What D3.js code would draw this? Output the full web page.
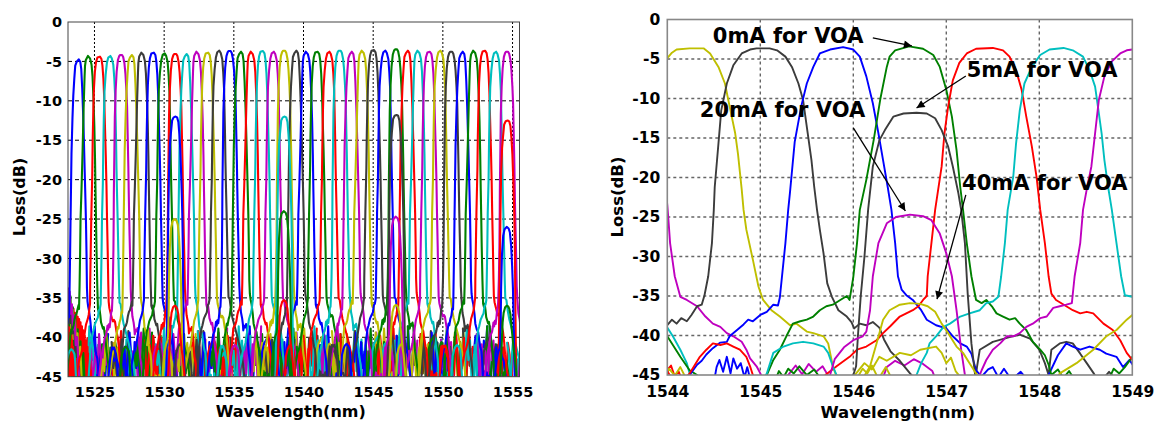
<!DOCTYPE html>
<html>
<head>
<meta charset="utf-8">
<script src="https://cdn.jsdelivr.net/npm/d3@7"></script>
<style>
  body { margin: 0; background: #fff; }
  svg { display: block; }
  text { font-family: "DejaVu Sans", "Liberation Sans", sans-serif; font-weight: bold; fill: #000; }
</style>
</head>
<body>
<div id="chart"></div>
<script>
// ---------------- data ----------------
var colorOf = { b: "#0000ff", g: "#008000", r: "#ff0000", c: "#00bfbf", m: "#bf00bf", y: "#bfbf00", k: "#3c3c3c" };
var channelColorCycle = ["b", "g", "r", "c", "m", "y", "k"];

var xTicksLeft = [1525, 1530, 1535, 1540, 1545, 1550, 1555];
var xTicksRight = [1544, 1545, 1546, 1547, 1548, 1549];
var yTicks = [0, -5, -10, -15, -20, -25, -30, -35, -40, -45];
var xDomainLeft = [1523.1, 1555.5];
var xDomainRight = [1544, 1549];
var yDomain = [-45, 0];

// right panel: measured transmission of each port, [wavelength nm, loss dB]
var trYellow = [[1543.95,-5.8],[1544.0,-4.9],[1544.05,-4.2],[1544.1,-3.8],[1544.24,-3.65],[1544.39,-3.65],[1544.46,-4.3],[1544.55,-6],[1544.62,-8.1],[1544.67,-11],[1544.73,-14.4],[1544.76,-17],[1544.8,-21.5],[1544.82,-24.1],[1544.85,-26.6],[1544.92,-30.4],[1544.98,-33.8],[1545.03,-35.5],[1545.12,-36.8],[1545.21,-37.6],[1545.32,-38.7],[1545.39,-38.5],[1545.5,-39.5],[1545.57,-39.7],[1545.68,-40.1],[1545.73,-41],[1545.78,-43.9],[1545.82,-45.2],[1545.9,-46.5],[1546.0,-46],[1546.05,-45.2],[1546.1,-44.2],[1546.15,-44.8],[1546.2,-43.8],[1546.27,-45.5],[1546.35,-44],[1546.42,-45.6],[1546.5,-47]];

var trBlack = [[1543.3,-47],[1543.45,-44.5],[1543.55,-43],[1543.65,-41.6],[1543.75,-40.8],[1543.85,-39.6],[1543.95,-39.2],[1544.0,-38.7],[1544.05,-38],[1544.1,-38.5],[1544.15,-37.8],[1544.21,-38.2],[1544.26,-37.4],[1544.32,-36.3],[1544.37,-36.1],[1544.4,-34.9],[1544.44,-32.5],[1544.48,-28.3],[1544.5,-24.1],[1544.51,-21.2],[1544.55,-15.7],[1544.58,-11.5],[1544.64,-8.1],[1544.71,-5.8],[1544.8,-4.3],[1544.89,-3.8],[1544.96,-3.65],[1545.1,-3.65],[1545.18,-3.9],[1545.27,-4.7],[1545.34,-6],[1545.41,-8.1],[1545.46,-10.2],[1545.51,-14.4],[1545.55,-17.8],[1545.58,-21.2],[1545.61,-24.1],[1545.64,-26.6],[1545.68,-29.6],[1545.72,-33.4],[1545.77,-35.1],[1545.84,-36.8],[1545.93,-37.6],[1545.98,-38.3],[1546.01,-39.1],[1546.07,-38.5],[1546.14,-38.7],[1546.21,-38.3],[1546.28,-39],[1546.33,-40.5],[1546.4,-42],[1546.5,-43.2],[1546.61,-44.8],[1546.7,-46],[1546.8,-47],[1547.3,-47],[1547.33,-44],[1547.36,-41.8],[1547.5,-40.8],[1547.68,-40.2],[1547.79,-39.9],[1547.9,-40.4],[1548.0,-41.8],[1548.06,-43.5],[1548.1,-45],[1548.13,-41.8],[1548.22,-41],[1548.29,-40.8],[1548.36,-41],[1548.44,-42.3],[1548.51,-43.5],[1548.58,-44.7],[1548.65,-46],[1548.75,-44.6],[1548.82,-45.5],[1549.1,-47]];

var trBlue = [[1543.9,-47],[1544.1,-46],[1544.2,-45.3],[1544.24,-45],[1544.32,-43.7],[1544.37,-43.2],[1544.42,-42.4],[1544.49,-41.6],[1544.57,-40.9],[1544.64,-40.8],[1544.67,-40.1],[1544.75,-39.3],[1544.82,-38.6],[1544.87,-38],[1544.92,-38.2],[1545.0,-37.4],[1545.07,-37],[1545.14,-36.1],[1545.19,-36.2],[1545.21,-35.2],[1545.27,-28.3],[1545.3,-24.1],[1545.32,-21.8],[1545.37,-15.5],[1545.44,-11],[1545.5,-8.1],[1545.57,-6],[1545.64,-4.3],[1545.75,-3.8],[1545.89,-3.5],[1546.0,-3.8],[1546.07,-4.7],[1546.14,-7.2],[1546.21,-10.6],[1546.27,-14.4],[1546.32,-17.8],[1546.37,-21.2],[1546.41,-24.1],[1546.45,-28.3],[1546.48,-32.5],[1546.52,-34.2],[1546.57,-34.9],[1546.64,-35.5],[1546.73,-36.8],[1546.79,-38],[1546.89,-38.7],[1547.0,-39.1],[1547.07,-40.1],[1547.15,-41],[1547.22,-41.4],[1547.27,-42.3],[1547.32,-44.4],[1547.38,-45.2],[1547.45,-44.3],[1547.5,-44],[1547.56,-45.3],[1547.62,-44.2],[1547.7,-45.6],[1547.8,-44.6],[1547.9,-46],[1548.0,-46],[1548.1,-45],[1548.2,-42.5],[1548.29,-41],[1548.36,-41.4],[1548.44,-41.8],[1548.54,-41.4],[1548.65,-41.8],[1548.72,-42.3],[1548.83,-42.7],[1548.9,-44],[1548.97,-43.1],[1549.05,-44.5]];

var trGreen = [[1544.9,-47],[1545.0,-46],[1545.07,-45],[1545.14,-43.1],[1545.21,-41.8],[1545.28,-40.1],[1545.35,-38.5],[1545.43,-38.2],[1545.5,-38],[1545.57,-37.6],[1545.64,-36.8],[1545.71,-36.3],[1545.78,-36.1],[1545.86,-35.5],[1545.93,-35],[1545.96,-35.5],[1546.0,-32.6],[1546.04,-28.3],[1546.07,-24.1],[1546.14,-20.3],[1546.22,-15.2],[1546.29,-10.1],[1546.36,-6],[1546.39,-4.7],[1546.45,-3.9],[1546.6,-3.4],[1546.75,-3.7],[1546.86,-4.5],[1546.93,-6],[1547.0,-8.9],[1547.06,-12.3],[1547.11,-16.5],[1547.15,-21.2],[1547.18,-24.1],[1547.22,-28.3],[1547.27,-32.5],[1547.32,-35.5],[1547.38,-35.9],[1547.43,-35.5],[1547.49,-36.3],[1547.54,-37.2],[1547.61,-37.6],[1547.68,-38],[1547.74,-37.8],[1547.79,-38.5],[1547.86,-39.3],[1547.93,-40.8],[1548.01,-41.8],[1548.06,-42.5],[1548.1,-43.7],[1548.13,-45],[1548.2,-44.3],[1548.26,-45.4],[1548.32,-44.5],[1548.4,-46],[1548.6,-47],[1548.75,-45.5],[1548.8,-44.2],[1548.86,-44.8],[1548.92,-44],[1549.0,-42.7],[1549.1,-44],[1549.2,-46]];

var trRed = [[1543.9,-47],[1544.0,-44.5],[1544.05,-45.5],[1544.15,-46],[1544.24,-44.8],[1544.35,-42.7],[1544.42,-41.8],[1544.49,-41],[1544.57,-41.2],[1544.64,-41],[1544.71,-41.4],[1544.78,-41.8],[1544.85,-42.7],[1544.89,-43.9],[1544.92,-45],[1545.0,-46],[1545.3,-47],[1545.6,-46.5],[1545.7,-45],[1545.82,-43.9],[1545.96,-42.7],[1546.04,-41.8],[1546.14,-41.4],[1546.25,-40.6],[1546.32,-39.7],[1546.4,-38.8],[1546.5,-37.6],[1546.57,-37.2],[1546.64,-36.8],[1546.7,-36.3],[1546.75,-35.5],[1546.79,-35],[1546.8,-32.5],[1546.84,-28.3],[1546.88,-24.1],[1546.95,-18.6],[1546.98,-14.4],[1547.02,-11],[1547.07,-7.7],[1547.14,-5.5],[1547.22,-4.3],[1547.32,-3.7],[1547.5,-3.6],[1547.61,-3.9],[1547.68,-4.7],[1547.75,-6.4],[1547.81,-8.9],[1547.86,-12.3],[1547.92,-16.1],[1547.97,-19.9],[1548.01,-24.1],[1548.06,-28.3],[1548.1,-32.5],[1548.13,-34.7],[1548.18,-35.5],[1548.29,-36.3],[1548.36,-36.8],[1548.44,-37.2],[1548.51,-37],[1548.58,-37.2],[1548.69,-38.5],[1548.79,-39.3],[1548.87,-40.6],[1548.94,-42.2],[1549.0,-43.1],[1549.1,-44.5],[1549.3,-46]];

var trCyan = [[1544.8,-47],[1545.0,-46],[1545.07,-44.8],[1545.14,-42.2],[1545.25,-41.4],[1545.35,-41],[1545.46,-40.8],[1545.57,-41],[1545.68,-41.4],[1545.73,-42.2],[1545.78,-43.9],[1545.82,-45],[1545.9,-46.5],[1546.3,-47],[1546.6,-46],[1546.68,-45],[1546.73,-43.5],[1546.79,-42.2],[1546.82,-41],[1546.89,-40.1],[1546.97,-38.9],[1547.04,-38.5],[1547.15,-37.6],[1547.25,-37.2],[1547.36,-36.8],[1547.43,-35.9],[1547.5,-35.7],[1547.56,-35.1],[1547.59,-32.5],[1547.63,-28.3],[1547.66,-24.1],[1547.72,-19.9],[1547.75,-15.7],[1547.79,-11.5],[1547.84,-8.1],[1547.92,-6],[1548.01,-4.5],[1548.11,-3.8],[1548.26,-3.6],[1548.36,-3.9],[1548.47,-4.7],[1548.54,-6.4],[1548.6,-8.5],[1548.63,-11],[1548.67,-14.4],[1548.7,-17.8],[1548.74,-21.2],[1548.78,-24.1],[1548.83,-28.3],[1548.88,-32.5],[1548.92,-34.9],[1549.0,-35.1],[1549.1,-36.5],[1549.2,-37.5],[1549.35,-38.5],[1549.5,-39.5],[1549.7,-41],[1549.9,-42.5],[1550.0,-44],[1550.1,-46],[1550.2,-47]];

var trMagenta = [[1547.2,-47],[1547.36,-45],[1547.38,-44.4],[1547.43,-43.1],[1547.5,-41.8],[1547.58,-41],[1547.65,-40.1],[1547.72,-40.1],[1547.79,-39.7],[1547.86,-38.9],[1547.93,-38.5],[1548.01,-37.8],[1548.08,-37.6],[1548.15,-36.5],[1548.22,-36.3],[1548.29,-36.1],[1548.35,-35.9],[1548.38,-32.5],[1548.44,-28.3],[1548.47,-24.1],[1548.51,-21.5],[1548.56,-18.6],[1548.6,-14.4],[1548.64,-10.2],[1548.7,-7.2],[1548.78,-5.3],[1548.87,-4.3],[1548.94,-3.9],[1549.0,-3.8],[1549.1,-3.7]];

// neighbouring ports entering from the panel edges
var trMagentaEdge = [[1543.97,-20],[1544.0,-23.5],[1544.01,-25],[1544.03,-28.3],[1544.08,-32.5],[1544.14,-35.1],[1544.21,-35.5],[1544.32,-36.3],[1544.41,-37.6],[1544.49,-38.5],[1544.57,-38.9],[1544.64,-39.7],[1544.71,-40.1],[1544.8,-40.8],[1544.85,-41.8],[1544.89,-42.9],[1544.96,-43.9],[1545.0,-44.8],[1545.05,-46],[1545.25,-47],[1545.3,-45],[1545.38,-43.8],[1545.45,-44.9],[1545.52,-43.6],[1545.6,-44.6],[1545.67,-43.9],[1545.75,-45.5],[1545.85,-47]];
var trCyanEdge = [[1543.9,-38.3],[1544.0,-39],[1544.06,-40.1],[1544.14,-41.8],[1544.21,-43.5],[1544.24,-44.8],[1544.3,-46]];
var trGreenEdge = [[1543.9,-39.5],[1544.0,-40.1],[1544.14,-42.7],[1544.24,-44.4],[1544.32,-45],[1544.4,-46.5]];
var trYellowEdge = [[1548.1,-47],[1548.22,-44.8],[1548.4,-43.5],[1548.58,-41.8],[1548.72,-40.1],[1548.83,-39.3],[1548.94,-38],[1549.0,-37.4],[1549.1,-36.5]];

// channel 1546.6 nm with the VOA driven at 5, 20 and 40 mA
var trBlack5mA = [[1545.8,-47],[1546.0,-45],[1546.03,-43.9],[1546.05,-40],[1546.08,-35],[1546.12,-30],[1546.16,-24],[1546.21,-18.6],[1546.28,-15.3],[1546.34,-14],[1546.43,-12.3],[1546.54,-11.9],[1546.68,-11.8],[1546.79,-11.9],[1546.88,-12.5],[1546.95,-14],[1547.02,-16.1],[1547.07,-18.6],[1547.13,-22],[1547.16,-24.1],[1547.2,-28.3],[1547.23,-34.7],[1547.27,-41],[1547.31,-45],[1547.4,-47]];
var trMagenta20mA = [[1545.7,-47],[1545.8,-43],[1545.9,-41.5],[1546.0,-40.6],[1546.1,-40.1],[1546.14,-39.5],[1546.18,-36.8],[1546.21,-32.5],[1546.27,-28.3],[1546.36,-25.8],[1546.46,-25],[1546.61,-24.7],[1546.75,-24.9],[1546.84,-25.4],[1546.93,-27.1],[1547.0,-29.6],[1547.06,-32.5],[1547.11,-36.8],[1547.16,-41.8],[1547.2,-45],[1547.3,-47]];
var trYellow40mA = [[1545.9,-47],[1546.1,-45.5],[1546.18,-43.9],[1546.25,-41],[1546.32,-38],[1546.39,-36.8],[1546.5,-36.1],[1546.61,-35.9],[1546.72,-36],[1546.8,-36.3],[1546.88,-37],[1546.95,-38.5],[1547.02,-39.7],[1547.11,-41.4],[1547.18,-42.2],[1547.25,-43.5],[1547.32,-44.8],[1547.4,-46],[1547.5,-47]];

// noise floor fragments near the bottom of the right panel
var nzBlue = [[1544.5,-46],[1544.53,-44],[1544.56,-43.1],[1544.6,-44.6],[1544.64,-42.7],[1544.68,-44.8],[1544.71,-42.9],[1544.75,-44.2],[1544.79,-43.5],[1544.83,-45.3],[1544.86,-44],[1544.9,-46]];
var nzYellow = [[1545.95,-46],[1546.05,-44.5],[1546.12,-43.5],[1546.2,-44.3],[1546.28,-42.7],[1546.36,-43.2],[1546.5,-42.2],[1546.62,-42.5],[1546.72,-41.8],[1546.89,-41.4],[1546.95,-42.2],[1547.0,-43.5],[1547.05,-42.8],[1547.1,-44.5],[1547.2,-46]];
var nzYellow2 = [[1543.95,-46],[1544.02,-44.2],[1544.08,-45.1],[1544.14,-44],[1544.2,-45.4],[1544.3,-47]];
var nzMagenta = [[1546.3,-46],[1546.36,-44],[1546.45,-43.2],[1546.55,-43.8],[1546.65,-43],[1546.75,-43.6],[1546.85,-44.5],[1546.9,-46]];
var nzGreen = [[1545.15,-46],[1545.2,-44.5],[1545.25,-45.3],[1545.3,-44.2],[1545.36,-44.8],[1545.42,-43.9],[1545.5,-45],[1545.58,-44.3],[1545.65,-45.5],[1545.7,-46]];
var nzRed = [[1543.98,-44.6],[1544.04,-43.8],[1544.08,-45.2],[1544.12,-44.5],[1544.17,-46]];

// left panel: 40 ports (centre nm, peak loss dB)
var leftCenters = [1523.81,1524.57,1525.34,1526.08,1526.90,1527.63,1528.40,1529.21,1529.98,1530.79,
                   1531.56,1532.35,1533.11,1533.90,1534.69,1535.46,1536.25,1537.04,1537.81,1538.60,
                   1539.43,1540.20,1540.97,1541.80,1542.59,1543.41,1544.21,1545.01,1545.82,1546.63,
                   1547.43,1548.21,1549.02,1549.77,1550.59,1551.37,1552.21,1552.98,1553.76,1554.60];
var leftPeaks = [-4.74,-4.31,-4.4,-4.31,-4.19,-4.19,-3.89,-3.89,-3.98,-4.06,
                 -4.06,-3.77,-3.89,-3.64,-3.68,-3.77,-3.77,-3.68,-3.77,-3.64,
                 -3.64,-3.77,-3.77,-3.77,-3.64,-3.77,-3.64,-3.55,-3.64,-3.47,
                 -3.64,-3.64,-3.77,-3.64,-3.77,-3.77,-3.64,-3.64,-3.77,-3.77];
// measured port shapes (from the right panel) used for each left-panel port
var shapeTraces = [trBlue, trGreen, trRed, trCyan, trBlack];
var shapeCenters = [1545.83, 1546.64, 1547.45, 1548.2, 1545.02];
var shapePeaks = [-3.5, -3.4, -3.6, -3.6, -3.65];

// noise floor seen beside every port on the left panel (dB), sampled every 0.12 nm
var floorNoise = [-44.5,-41.8,-43.9,-40.6,-45.8,-42.3,-39.4,-43.1,-46.2,-41.2,
                  -44.0,-38.9,-42.7,-45.5,-40.1,-43.6,-41.5,-46.5,-42.0,-39.8,
                  -44.8,-41.0,-43.3,-46.0,-40.4,-42.9,-38.6,-44.2,-45.9,-41.7,
                  -43.5,-40.9,-46.3,-42.5,-39.6,-44.6,-41.3,-43.8,-45.2,-40.7,
                  -42.2,-46.4,-41.9,-39.2,-44.3,-42.8,-45.6,-40.3,-43.0,-46.1];
var floorStep = 0.12, floorSpan = 12, floorGap = 0.85;

// attenuated (VOA) ports on the left panel
var voaShapes = [trBlack5mA, trMagenta20mA, trYellow40mA];
var voaShapeCenter = 1546.65;
var voaShapePeaks = [-11.8, -24.7, -35.9];
var voaCenters = [1530.79, 1538.62, 1546.65, 1554.62];
var voaPeaks = [[-12, -25, -36], [-12, -24, -35.3], [-11.8, -24.7, -35.9], [-12.5, -26, -36]];
var voaColors = [["b", "y", "r"], ["c", "g", "r"], ["k", "m", "y"], ["r", "b", "g"]];

// noisy start of the sweep, left panel
var edgeRedStart = 1523.1, edgeRedStep = 0.025;
var edgeRed = [-36.0,-45.5,-35.6,-45.5,-36.8,-45.5,-36.2,-45.5,-37.0,-45.5,
               -36.5,-45.5,-36.9,-45.5,-37.3,-45.5,-36.4,-45.5,-37.6,-45.5,
               -36.9,-45.5,-37.8,-45.5,-37.1,-45.5,-38.0,-45.5,-37.4,-45.5,
               -38.3,-45.5,-37.7,-45.5,-38.6,-45.5,-38.1,-45.5,-39.0,-45.5,
               -38.6,-45.5,-39.5,-45.5,-39.1,-45.5,-40.2,-45.5,-39.8,-45.5,
               -41.0,-45.5,-40.4,-45.5,-41.8,-45.5,-41.2,-45.5,-42.6,-45.5,
               -42.1,-45.5,-43.4,-45.5,-43.0,-45.5,-44.2,-45.5,-45.5,-45.5];
var edgeGreen = [[1523.1,-36],[1523.2,-38.5],[1523.28,-34.8],[1523.35,-39.5],[1523.45,-36.2],[1523.55,-41],[1523.62,-37.5],[1523.7,-42.5],[1523.8,-39],[1523.9,-44],[1524.0,-40.5],[1524.1,-45.5],[1524.2,-42],[1524.3,-46]];
var edgeYellow = [[1523.1,-34],[1523.18,-37],[1523.25,-35.2],[1523.34,-38.8],[1523.42,-36.5],[1523.5,-40.2],[1523.6,-37.8],[1523.7,-41.5],[1523.78,-39.5],[1523.88,-43.5],[1523.98,-41.2],[1524.1,-46]];
var edgeBlack = [[1523.1,-37],[1523.16,-35.5],[1523.24,-38.2],[1523.32,-36.6],[1523.42,-39.5],[1523.52,-38],[1523.62,-41.8],[1523.72,-40],[1523.84,-43.5],[1523.95,-46]];
var edgeMagenta = [[1523.1,-33.8],[1523.15,-35.5],[1523.22,-34.2],[1523.3,-37],[1523.38,-35.8],[1523.46,-39],[1523.56,-37.2],[1523.66,-41],[1523.76,-40],[1523.86,-44],[1523.95,-46]];

// annotations on the right panel
var noteLabels = ["0mA for VOA", "5mA for VOA", "20mA for VOA", "40mA for VOA"];
var noteAt = [[1544.49, -2.97], [1547.22, -7.28], [1544.35, -12.34], [1547.17, -21.58]];
var noteFrom = [[1546.21, -2.34], [1547.21, -7.15], [1546.0, -13.73], [1547.21, -22.2]];
var noteTo = [[1546.63, -3.35], [1546.68, -11.2], [1546.56, -24.24], [1546.9, -35.4]];

// ---------------- build series ----------------
var leftSeries = [];

// floor noise first, so the port shapes sit over it
leftCenters.forEach(function(c, k) {
    var color = colorOf[channelColorCycle[k % 7]];
    [-1, 1].forEach(function(side, s) {
        var pts = [];
        for (var j = 0; j < floorSpan; j++) {
            var v = floorNoise[(k * 7 + s * 23 + j) % floorNoise.length];
            pts.push([c + side * (floorGap + j * floorStep), v]);
        }
        leftSeries.push({ color: color, data: pts });
    });
});

leftSeries.push({ color: colorOf.r, data: edgeRed.map(function(v, i) { return [edgeRedStart + i * edgeRedStep, v]; }) });
leftSeries.push({ color: colorOf.g, data: edgeGreen });
leftSeries.push({ color: colorOf.y, data: edgeYellow });
leftSeries.push({ color: colorOf.k, data: edgeBlack });
leftSeries.push({ color: colorOf.m, data: edgeMagenta });

leftCenters.forEach(function(c, k) {
    var s = k % shapeTraces.length;
    var dx = c - shapeCenters[s], dy = leftPeaks[k] - shapePeaks[s];
    leftSeries.push({
        color: colorOf[channelColorCycle[k % 7]],
        data: shapeTraces[s].map(function(p) { return [p[0] + dx, p[1] + dy]; })
    });
});
voaCenters.forEach(function(c, i) {
    voaShapes.forEach(function(shape, j) {
        var dx = c - voaShapeCenter, dy = voaPeaks[i][j] - voaShapePeaks[j];
        leftSeries.push({
            color: colorOf[voaColors[i][j]],
            data: shape.map(function(p) { return [p[0] + dx, p[1] + dy]; })
        });
    });
});

var rightSeries = [
    { color: colorOf.m, data: trMagentaEdge },
    { color: colorOf.c, data: trCyanEdge },
    { color: colorOf.g, data: trGreenEdge },
    { color: colorOf.r, data: nzRed },
    { color: colorOf.y, data: nzYellow2 },
    { color: colorOf.b, data: nzBlue },
    { color: colorOf.g, data: nzGreen },
    { color: colorOf.m, data: nzMagenta },
    { color: colorOf.y, data: trYellow },
    { color: colorOf.k, data: trBlack },
    { color: colorOf.b, data: trBlue },
    { color: colorOf.g, data: trGreen },
    { color: colorOf.r, data: trRed },
    { color: colorOf.c, data: trCyan },
    { color: colorOf.m, data: trMagenta },
    { color: colorOf.y, data: trYellowEdge },
    { color: colorOf.y, data: nzYellow },
    { color: colorOf.k, data: trBlack5mA },
    { color: colorOf.m, data: trMagenta20mA },
    { color: colorOf.y, data: trYellow40mA }
];

// ---------------- drawing ----------------
var svg = d3.select("#chart").append("svg")
        .attr("width", 1156)
        .attr("height", 421);
var defs = svg.append("defs");

defs.append("marker")
        .attr("id", "arrow")
        .attr("viewBox", "0 0 10 10")
        .attr("refX", 10).attr("refY", 5)
        .attr("markerWidth", 11).attr("markerHeight", 8)
        .attr("markerUnits", "userSpaceOnUse")
        .attr("orient", "auto")
    .append("path")
        .attr("d", "M0,0L10,5L0,10z")
        .attr("fill", "#000");

function drawPanel(o) {
    var box = o.box;
    var x = d3.scaleLinear().domain(o.xDomain).range([box.left, box.right]);
    var y = d3.scaleLinear().domain(yDomain).range([box.bottom, box.top]);
    var g = svg.append("g").attr("class", o.id);

    defs.append("clipPath")
            .attr("id", o.id + "Clip")
        .append("rect")
            .attr("x", box.left)
            .attr("y", box.top)
            .attr("width", box.right - box.left)
            .attr("height", box.bottom - box.top);

    // grid under the traces
    var grid = g.append("g").attr("class", "grid");
    grid.selectAll("line.v")
        .data(o.xTicks.filter(function(d) { return d > o.xDomain[0] && d < o.xDomain[1]; }))
        .enter().append("line")
            .attr("x1", function(d) { return x(d); })
            .attr("x2", function(d) { return x(d); })
            .attr("y1", box.top).attr("y2", box.bottom)
            .attr("stroke", o.gridColor)
            .attr("stroke-width", o.gridWidth)
            .attr("stroke-dasharray", o.vDash);
    grid.selectAll("line.h")
        .data(yTicks.filter(function(d) { return d > yDomain[0] && d < yDomain[1]; }))
        .enter().append("line")
            .attr("y1", function(d) { return y(d); })
            .attr("y2", function(d) { return y(d); })
            .attr("x1", box.left).attr("x2", box.right)
            .attr("stroke", o.gridColor)
            .attr("stroke-width", o.gridWidth)
            .attr("stroke-dasharray", o.hDash);

    var line = d3.line()
            .x(function(d) { return x(d[0]); })
            .y(function(d) { return y(d[1]); });

    g.append("g")
            .attr("clip-path", "url(#" + o.id + "Clip)")
        .selectAll("path")
        .data(o.series)
        .enter().append("path")
            .attr("d", function(d) { return line(d.data); })
            .attr("fill", "none")
            .attr("stroke", function(d) { return d.color; })
            .attr("stroke-width", o.lineWidth)
            .attr("stroke-linejoin", "round")
            .attr("stroke-linecap", "round");

    // frame
    g.append("rect")
            .attr("x", box.left).attr("y", box.top)
            .attr("width", box.right - box.left)
            .attr("height", box.bottom - box.top)
            .attr("fill", "none")
            .attr("stroke", o.frameColor)
            .attr("stroke-width", o.frameWidth);

    var xAxis = g.append("g")
            .attr("transform", "translate(0," + box.bottom + ")")
            .call(d3.axisBottom(x).tickValues(o.xTicks).tickSize(0).tickPadding(o.xPad)
                .tickFormat(d3.format("d")));
    xAxis.select(".domain").remove();
    xAxis.selectAll("text").style("font-size", o.tickFont + "px");

    var yAxis = g.append("g")
            .attr("transform", "translate(" + box.left + ",0)")
            .call(d3.axisLeft(y).tickValues(yTicks).tickSize(0).tickPadding(o.yPad)
                .tickFormat(function(d) { return String(d); }));
    yAxis.select(".domain").remove();
    yAxis.selectAll("text").style("font-size", o.tickFont + "px");

    g.append("text")
            .attr("x", (box.left + box.right) / 2 + o.xTitleShift)
            .attr("y", o.xTitleY)
            .attr("text-anchor", "middle")
            .style("font-size", o.titleFont + "px")
            .text("Wavelength(nm)");
    g.append("text")
            .attr("transform", "translate(" + o.yTitleX + ",197) rotate(-90)")
            .attr("text-anchor", "middle")
            .style("font-size", o.titleFont + "px")
            .text("Loss(dB)");

    return { x: x, y: y, g: g };
}

drawPanel({
    id: "left",
    box: { left: 68, right: 519.5, top: 22, bottom: 376.7 },
    xDomain: xDomainLeft, xTicks: xTicksLeft,
    series: leftSeries, lineWidth: 2.1,
    gridColor: "#000", gridWidth: 1, vDash: "2,2", hDash: "4,3",
    frameColor: "#444", frameWidth: 1,
    tickFont: 14.5, xPad: 10, yPad: 6,
    titleFont: 16, xTitleShift: -3, xTitleY: 417, yTitleX: 25
});

var right = drawPanel({
    id: "right",
    box: { left: 667.3, right: 1132.3, top: 19.5, bottom: 375 },
    xDomain: xDomainRight, xTicks: xTicksRight,
    series: rightSeries, lineWidth: 1.9,
    gridColor: "#666", gridWidth: 1.4, vDash: "3,3", hDash: "3,3",
    frameColor: "#888", frameWidth: 1.6,
    tickFont: 15.5, xPad: 11, yPad: 7,
    titleFont: 16.5, xTitleShift: -2, xTitleY: 418, yTitleX: 623
});

// annotations with arrows
var notes = right.g.append("g").attr("class", "notes");
notes.selectAll("line")
    .data(noteLabels)
    .enter().append("line")
        .attr("x1", function(d, i) { return right.x(noteFrom[i][0]); })
        .attr("y1", function(d, i) { return right.y(noteFrom[i][1]); })
        .attr("x2", function(d, i) { return right.x(noteTo[i][0]); })
        .attr("y2", function(d, i) { return right.y(noteTo[i][1]); })
        .attr("stroke", "#000")
        .attr("stroke-width", 1.3)
        .attr("marker-end", "url(#arrow)");
notes.selectAll("text")
    .data(noteLabels)
    .enter().append("text")
        .attr("x", function(d, i) { return right.x(noteAt[i][0]); })
        .attr("y", function(d, i) { return right.y(noteAt[i][1]); })
        .style("font-size", "21px")
        .text(function(d) { return d; });
</script>
</body>
</html>
